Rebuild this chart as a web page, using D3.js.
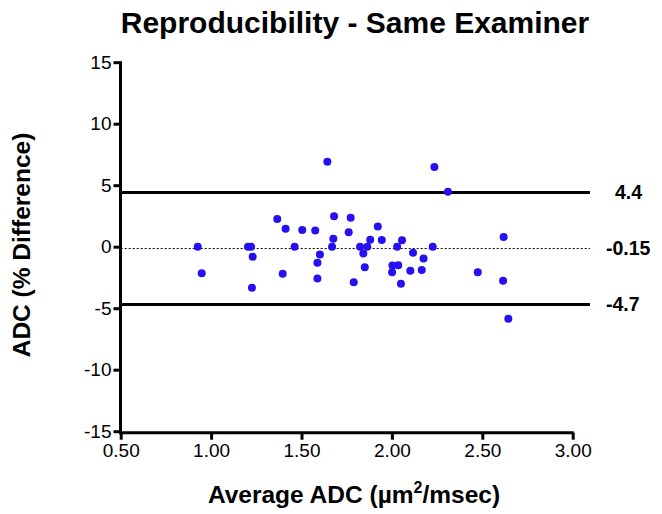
<!DOCTYPE html>
<html><head><meta charset="utf-8">
<script src="https://cdn.jsdelivr.net/npm/d3@7"></script>
<style>
html,body{margin:0;padding:0;background:#fff;}
svg{display:block;font-family:"Liberation Sans",Arial,Helvetica,sans-serif;}
</style></head>
<body><svg id="c" width="662" height="514"></svg>
<script>
const avgADC = [0.926,0.948,1.204,1.221,1.230,1.226,1.366,1.412,1.396,1.462,1.504,1.576,1.602,1.588,1.588,1.643,1.669,1.676,1.680,1.761,1.772,1.789,1.824,1.842,1.850,1.864,1.880,1.922,1.944,2.003,2.001,2.029,2.035,2.056,2.050,2.117,2.102,2.175,2.165,2.226,2.235,2.310,2.475,2.618,2.615,2.644];
const pctDiff = [0.0,-2.16,0.0,0.0,-0.82,-3.34,2.25,1.46,-2.20,0.0,1.36,1.32,-0.63,-1.30,-2.59,6.91,0.0,0.64,2.47,1.18,2.35,-2.89,0.0,-0.55,-1.67,0.0,0.56,1.64,0.54,-1.53,-2.07,0.0,-1.51,0.52,-3.01,-0.49,-1.95,-0.96,-1.89,0.0,6.48,4.47,-2.08,0.79,-2.76,-5.85];
const refValues = [4.4,-0.15,-4.7];
const refLabels = ["4.4","-0.15","-4.7"];
const refDashed = [false,true,false];
const xTicks = [0.5,1.0,1.5,2.0,2.5,3.0];
const yTicks = [-15,-10,-5,0,5,10,15];

const svg = d3.select("#c");
const x = d3.scaleLinear().domain([0.5,3]).range([120.7,572.7]);
const y = d3.scaleLinear().domain([-15,15]).range([431.2,62.2]);

// title
svg.append("text").attr("x",355).attr("y",33).attr("text-anchor","middle")
  .attr("font-size",30).attr("font-weight","bold").text("Reproducibility - Same Examiner");

// reference lines
refValues.forEach((v,i)=>{
  svg.append("line").attr("x1",x(0.5)).attr("x2",590).attr("y1",y(v)).attr("y2",y(v))
    .attr("stroke","#000").attr("stroke-width",refDashed[i]?1:3)
    .attr("stroke-dasharray",refDashed[i]?"2,2":null);
  svg.append("text").attr("x",refLabels[i].startsWith("-")?606:615).attr("y",y(v)).attr("dy","0.35em")
    .attr("font-size",19.5).attr("font-weight","bold").text(refLabels[i]);
});

// points
svg.append("g").selectAll("circle").data(avgADC).join("circle")
  .attr("cx",(d)=>x(d)).attr("cy",(d,i)=>y(pctDiff[i])).attr("r",4).attr("fill","#2410f0");

// y axis
const gy = svg.append("g").attr("transform","translate(120.5,0)")
  .call(d3.axisLeft(y).tickValues(yTicks).tickSize(7).tickPadding(2).tickFormat((d)=>String(d)));
gy.attr("font-family",null).attr("font-size",null);
gy.select(".domain").attr("stroke-width",3).attr("d",`M0,${y(15)-1}V${433.5}`);
gy.selectAll(".tick line").attr("stroke-width",3);
gy.selectAll(".tick text").attr("font-size",19);

// x axis
const gx = svg.append("g").attr("transform","translate(0,432.7)")
  .call(d3.axisBottom(x).tickValues(xTicks).tickSize(7).tickPadding(4).tickFormat(d3.format(".2f")));
gx.attr("font-family",null).attr("font-size",null);
gx.select(".domain").attr("stroke-width",3).attr("d",`M119,0H${x(3)+1}`);
gx.selectAll(".tick line").attr("stroke-width",3);
gx.selectAll(".tick text").attr("font-size",19);

// axis titles
const xt = svg.append("text").attr("x",354).attr("y",503).attr("text-anchor","middle")
  .attr("font-size",24.5).attr("font-weight","bold");
xt.append("tspan").text("Average ADC (\u00b5m");
xt.append("tspan").attr("font-size",16).attr("dy",-10).text("2");
xt.append("tspan").attr("dy",10).text("/msec)");

svg.append("text").attr("transform","translate(30,245) rotate(-90)").attr("text-anchor","middle")
  .attr("font-size",24.5).attr("font-weight","bold").text("ADC (% Difference)");
</script></body></html>
